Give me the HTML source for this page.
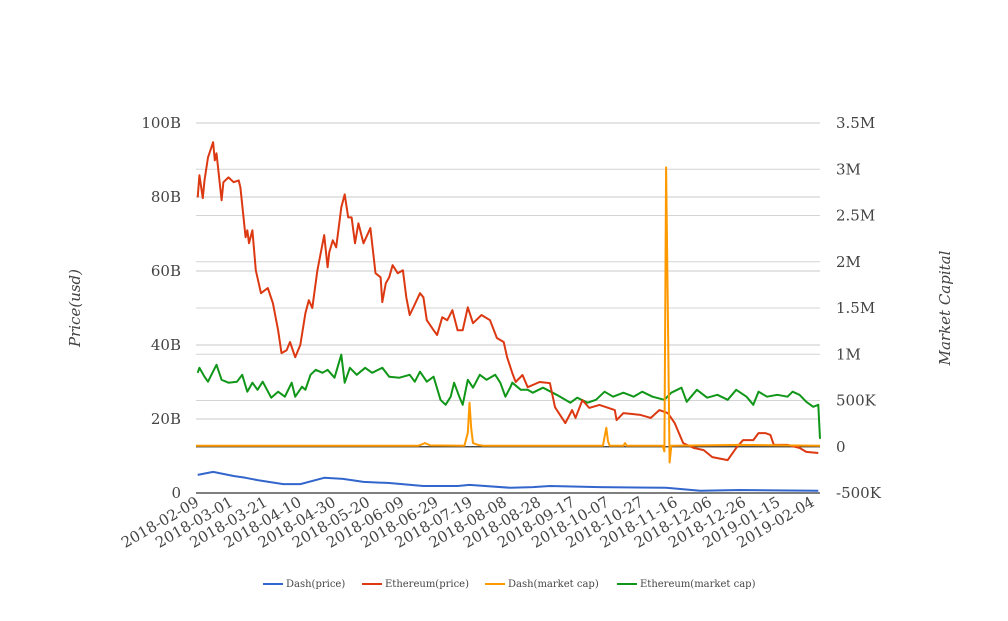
<!DOCTYPE html>
<html><head><meta charset="utf-8"><style>
body{margin:0;background:#fff;}
svg text{font-family:"DejaVu Serif","Liberation Serif",serif;fill:#444;}
</style></head><body>
<svg id="chart" width="1008" height="616" viewBox="0 0 1008 616" xmlns="http://www.w3.org/2000/svg">
<g id="grid"></g>
<g id="series"></g>
<g id="axes"></g>
<text transform="translate(80,308) rotate(-90)" text-anchor="middle" font-size="15" font-style="italic">Price(usd)</text>
<text transform="translate(950,308) rotate(-90)" text-anchor="middle" font-size="15" font-style="italic">Market Capital</text>
<g id="legend"></g>
</svg>
<script>
const leftTicks=[0,20,40,60,80,100];
const leftTickLabels=["0","20B","40B","60B","80B","100B"];
const rightTicks=[-500,0,500,1000,1500,2000,2500,3000,3500];
const rightTickLabels=["-500K","0","500K","1M","1.5M","2M","2.5M","3M","3.5M"];
const xTickDays=[0,20,40,60,80,100,120,140,160,180,200,220,240,260,280,300,320,340,360];
const xTickLabels=["2018-02-09","2018-03-01","2018-03-21","2018-04-10","2018-04-30","2018-05-20","2018-06-09","2018-06-29","2018-07-19","2018-08-08","2018-08-28","2018-09-17","2018-10-07","2018-10-27","2018-11-16","2018-12-06","2018-12-26","2019-01-15","2019-02-04"];

const ethPriceDays=[1,2,4,5,7,10,11,12,15,16,19,22,25,26,29,30,31,33,35,38,42,45,48,50,53,55,58,61,64,66,68,71,75,77,78,80,82,85,87,89,91,93,95,98,102,105,108,109,111,113,115,118,121,123,125,127,131,133,135,139,141,144,147,150,153,156,159,162,167,172,176,180,182,185,187,191,194,201,207,210,216,220,222,226,230,236,245,246,250,260,266,271,276,280,285,291,297,302,311,316,320,326,329,333,336,338,346,353,357,364];
const ethPrice=[79.9,85.9,79.7,84.5,90.7,94.8,89.9,91.8,79.1,84,85.3,84,84.5,82.6,69.1,71,67.5,71,60.2,54,55.4,51.3,44,37.8,38.6,40.8,36.7,40,48.6,52.1,50,60.2,69.7,61,65.1,68.3,66.4,77.2,80.7,74.5,74.5,67.5,72.9,67.5,71.6,59.4,58.3,51.6,56.7,58.3,61.6,59.4,60.2,52.9,48.1,50,54,52.9,46.7,44,42.7,47.5,46.7,49.4,44,44,50.2,45.9,48.1,46.7,41.9,40.8,36.7,32.4,30,31.9,28.6,30,29.7,23.2,18.9,22.4,20.3,25.1,23,23.8,22.4,19.7,21.6,21.1,20.3,22.4,21.6,18.9,13.5,12.2,11.6,9.7,8.9,12.2,14.3,14.3,16.2,16.2,15.7,13,13,12.2,11.1,10.8];

const ethCapDays=[1,2,5,7,9,12,15,19,24,27,30,33,36,39,44,48,52,56,58,62,64,67,70,74,77,81,85,87,90,94,99,103,109,113,119,125,128,131,135,139,143,146,149,151,154,156,159,162,166,170,175,178,181,184,185,190,194,197,203,211,219,223,229,234,239,244,250,256,261,267,274,278,284,287,293,299,305,311,316,322,326,329,334,340,346,349,353,357,361,364,365];
const ethCap=[800,854,757,703,778,886,724,692,703,778,595,692,616,703,530,595,541,692,541,649,616,778,832,800,832,746,995,692,854,778,854,800,854,757,746,778,703,811,703,757,508,454,541,692,541,454,724,638,778,724,778,692,541,649,692,616,616,584,638,562,476,530,476,508,595,541,584,541,595,541,508,584,638,486,616,530,562,508,616,541,454,595,541,562,541,595,562,486,432,454,86];

const dashPriceDays=[1,10,22,29,36,51,61,75,86,98,113,133,153,160,184,197,207,236,275,295,318,364];
const dashPrice=[4.9,5.7,4.6,4.1,3.5,2.4,2.4,4.1,3.8,3.0,2.7,1.9,1.9,2.2,1.4,1.6,1.9,1.6,1.4,0.6,0.8,0.6];

const dashCapDays=[0,130,134,137,157,159,160,161,162,165,168,238,240,241,242,250,251,252,273,274,275,276,277,278,318,365];
const dashCap=[10,10,40,15,10,150,476,200,40,20,10,10,205,60,10,10,40,10,10,-50,3020,1500,-170,10,20,10];

const NS="http://www.w3.org/2000/svg";
const X0=196,X1=820,YB=493,YT=123;
const xs=d=>X0+d*(X1-X0)/365;
const yl=v=>YB-(v-0)*(YB-YT)/100;
const yr=k=>YB-(k+500)*(YB-YT)/4000;
function mk(tag,attrs,parent){const e=document.createElementNS(NS,tag);for(const k in attrs)e.setAttribute(k,attrs[k]);parent.appendChild(e);return e;}
const grid=document.getElementById('grid'),axes=document.getElementById('axes'),series=document.getElementById('series'),legend=document.getElementById('legend');

rightTicks.forEach((t,i)=>{const y=yr(t);
 const l=mk('line',{x1:X0,x2:X1,y1:y,y2:y,stroke:'#d4d4d4','stroke-width':1},grid);
 
 
 const tx=mk('text',{x:836,y:y+5,'font-size':15},axes);tx.textContent=rightTickLabels[i];
 
 
});
leftTicks.forEach((t,i)=>{const y=yl(t);
 const l=mk('line',{x1:X0,x2:X1,y1:y,y2:y,stroke:'#c8c8c8','stroke-width':1},grid);
 
 
 const tx=mk('text',{x:181,y:y+5,'font-size':15,'text-anchor':'end'},axes);tx.textContent=leftTickLabels[i];
 
 
});
const base=mk('line',{x1:X0,x2:X1,y1:yl(0),y2:yl(0),stroke:'#333','stroke-width':1.2},axes);


const zr=mk('line',{x1:X0,x2:X1,y1:yr(0),y2:yr(0),stroke:'#333','stroke-width':1.2},grid);


xTickDays.forEach((d,i)=>{const x=xs(d);
 const tx=mk('text',{transform:`translate(${x+4},${505}) rotate(-30)`,'font-size':15,'text-anchor':'end'},axes);tx.textContent=xTickLabels[i];
 
 
});
function line(days,vals,sc,color,name){
 const p=days.map((d,i)=>(i?'L':'M')+xs(d).toFixed(1)+','+sc(vals[i]).toFixed(1)).join('');
 const e=mk('path',{d:p,fill:'none',stroke:color,'stroke-width':2,'stroke-linejoin':'round'},series);
 
 
}
line(dashPriceDays,dashPrice,yl,'#3366cc','dash-price-line');
line(ethCapDays,ethCap,yr,'#109618','ethereum-market-cap-line');
line(ethPriceDays,ethPrice,yl,'#dc3912','ethereum-price-line');
line(dashCapDays,dashCap,yr,'#ff9900','dash-market-cap-line');

const legItems=[["Dash(price)","#3366cc",263],["Ethereum(price)","#dc3912",362],["Dash(market cap)","#ff9900",485],["Ethereum(market cap)","#109618",617]];
legItems.forEach(it=>{
 const g=mk('g',{},legend);
 
 
 mk('line',{x1:it[2],x2:it[2]+20,y1:584,y2:584,stroke:it[1],'stroke-width':2},g);
 const t=mk('text',{x:it[2]+23,y:587,'font-size':10,fill:'#222'},g);t.textContent=it[0];
});
</script>
</body></html>
